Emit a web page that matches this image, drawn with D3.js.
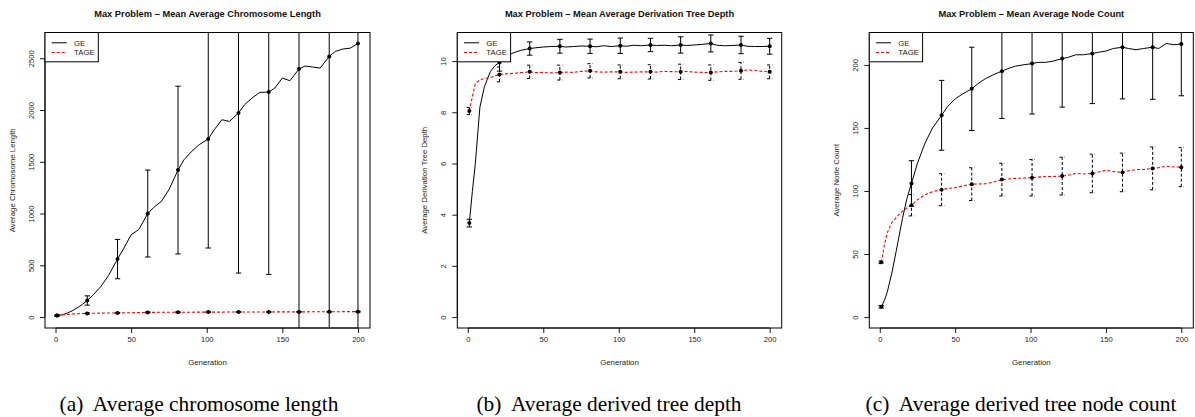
<!DOCTYPE html>
<html>
<head>
<meta charset="utf-8">
<script src="https://cdnjs.cloudflare.com/ajax/libs/d3/7.8.5/d3.min.js"></script>
<style>
  body { margin: 0; background: #fff; }
  svg { display: block; font-family: "Liberation Sans", Arial, sans-serif; }
</style>
</head>
<body>
<div id="chart"></div>
<script>
const WIDTH = 1195;
const HEIGHT = 417;

const lineGens = [1, 3, 5, 8, 11, 15, 18, 21, 25, 30, 35, 41, 45, 50, 55, 61, 65, 70, 75, 81, 85, 90, 95,
    101, 105, 110, 115, 121, 125, 130, 135, 141, 145, 150, 155, 161, 165, 170, 175, 181, 185, 190, 195, 200];
// generations with markers + error bars
const barGens = [1, 21, 41, 61, 81, 101, 121, 141, 161, 181, 200];

// (a) chromosome length
const geLength = [14, 18, 25, 40, 60, 95, 125, 160, 215, 296, 400, 560, 660, 795, 845, 1000, 1060, 1117, 1230, 1420, 1520, 1600, 1665,
    1720, 1810, 1906, 1890, 1971, 2051, 2116, 2170, 2174, 2212, 2309, 2283, 2396, 2425, 2415, 2405, 2518, 2566, 2589, 2598, 2643];
const tageLength = [14, 18, 22, 26, 29, 32, 34, 35, 37, 38, 39, 40, 41, 42, 43, 45, 45, 46, 46, 47, 47, 47, 48,
    48, 48, 48, 49, 49, 49, 49, 49, 49, 50, 50, 50, 50, 50, 51, 51, 51, 51, 52, 52, 52];
const geLengthErr = [5, 45, 190, 420, 810, 1053, 1546, 1762, 2700, 2800, 2900];
const tageLengthErr = [3, 4, 4, 4, 4, 4, 4, 4, 4, 4, 4];

// (b) derivation tree depth
const geDepth = [3.67, 4.9, 6.0, 8.2, 9.0, 9.6, 9.82, 9.95, 10.17, 10.32, 10.42, 10.49, 10.52, 10.55, 10.57, 10.58, 10.55, 10.57, 10.59, 10.58, 10.56, 10.6, 10.57,
    10.6, 10.58, 10.62, 10.6, 10.63, 10.61, 10.62, 10.6, 10.63, 10.61, 10.63, 10.65, 10.69, 10.62, 10.6, 10.61, 10.63, 10.58, 10.57, 10.57, 10.58];
const tageDepth = [8.05, 8.6, 9.13, 9.27, 9.32, 9.36, 9.42, 9.48, 9.5, 9.52, 9.55, 9.58, 9.55, 9.56, 9.54, 9.55, 9.57, 9.56, 9.6, 9.62, 9.58, 9.57, 9.58,
    9.58, 9.56, 9.57, 9.58, 9.58, 9.57, 9.6, 9.59, 9.58, 9.6, 9.57, 9.56, 9.55, 9.58, 9.6, 9.6, 9.62, 9.65, 9.64, 9.6, 9.58];
const geDepthErr = [0.15, 0.34, 0.26, 0.27, 0.28, 0.3, 0.26, 0.32, 0.33, 0.34, 0.31];
const tageDepthErr = [0.14, 0.29, 0.26, 0.29, 0.28, 0.27, 0.28, 0.3, 0.3, 0.33, 0.27];

// (c) node count
const geNodes = [8.2, 13, 20, 35, 53, 78, 94, 106, 122, 138, 150, 160, 167, 173, 177, 181, 185, 189, 192, 195, 197, 199, 200,
    201, 202, 202, 203, 205, 206, 208, 208, 209, 210, 211, 213, 214, 213, 212, 213, 214, 213, 217, 216, 216.5];
const tageNodes = [43.4, 57, 67, 75, 79, 84, 86.5, 88.7, 93, 97, 99.5, 101, 102, 102.5, 104, 105.4, 105.5, 105.7, 107, 109, 109.5, 110, 110.3,
    110.5, 111, 111.5, 111.5, 111.8, 112.5, 113.9, 113.5, 113.9, 115, 116.3, 115.5, 114.7, 116, 117, 117, 117.9, 118.5, 119.7, 119, 118.9];
const geNodesErr = [1, 18, 27.7, 33, 37.5, 40, 38.5, 39.7, 41, 41.3, 41];
const tageNodesErr = [1, 8.5, 12.7, 13, 13, 14.5, 15, 15.3, 15.3, 17, 15.5];

const xTicks = [0, 50, 100, 150, 200];
const seriesNames = ["GE", "TAGE"];

const panels = [
    { id: "a", title: "Max Problem \u2013 Mean Average Chromosome Length", ylab: "Average Chromosome Length",
      caption: "(a)\u00a0 Average chromosome length", ge: geLength, tage: tageLength, geErr: geLengthErr, tageErr: tageLengthErr,
      yTicks: [0, 500, 1000, 1500, 2000, 2500], left: 45, right: 370, capX: 199, tageBarDash: null },
    { id: "b", title: "Max Problem \u2013 Mean Average Derivation Tree Depth", ylab: "Average Derivation Tree Depth",
      caption: "(b)\u00a0 Average derived tree depth", ge: geDepth, tage: tageDepth, geErr: geDepthErr, tageErr: tageDepthErr,
      yTicks: [0, 2, 4, 6, 8, 10], left: 457.3, right: 781.7, capX: 609, tageBarDash: "3,2" },
    { id: "c", title: "Max Problem \u2013 Mean Average Node Count", ylab: "Average Node Count",
      caption: "(c)\u00a0 Average derived tree node count", ge: geNodes, tage: tageNodes, geErr: geNodesErr, tageErr: tageNodesErr,
      yTicks: [0, 50, 100, 150, 200], left: 869.3, right: 1193.3, capX: 1021, tageBarDash: "3,2" },
];

const TOP = 32.5;
const BOTTOM = 328;

const svg = d3.select("#chart").append("svg")
    .attr("width", WIDTH).attr("height", HEIGHT);

// R style 4% padding
let pad = (lo, hi) => {
    let r = hi - lo;
    return [lo - 0.04 * r, hi + 0.04 * r];
}

panels.forEach((p) => {
    const g = svg.append("g").attr("id", "panel-" + p.id);

    const xScale = d3.scaleLinear()
        .domain(pad(1, 200))
        .range([p.left, p.right]);
    const yScale = d3.scaleLinear()
        .domain(pad(0, d3.max(p.ge)))
        .range([BOTTOM, TOP]);

    g.append("clipPath").attr("id", "clip-" + p.id)
        .append("rect")
        .attr("x", p.left).attr("y", TOP)
        .attr("width", p.right - p.left).attr("height", BOTTOM - TOP);

    // axes
    const xAxis = d3.axisBottom(xScale).tickValues(xTicks).tickSize(5).tickPadding(4)
        .tickFormat(d3.format("d"));
    const xAxisCont = g.append("g")
        .attr("transform", `translate(0, ${BOTTOM})`)
        .call(xAxis);
    const yAxis = d3.axisLeft(yScale).tickValues(p.yTicks).tickSize(5).tickPadding(4)
        .tickFormat(d3.format("d"));
    const yAxisCont = g.append("g")
        .attr("transform", `translate(${p.left}, 0)`)
        .call(yAxis);
    [xAxisCont, yAxisCont].forEach((a) => {
        a.select(".domain").remove();
        a.selectAll("line").attr("stroke", "#000").attr("stroke-width", 0.9);
        a.selectAll("text").attr("font-size", 7.6).attr("fill", "#222")
            .attr("font-family", "Liberation Sans, Arial, sans-serif");
    });
    xAxisCont.append("line")
        .attr("x1", xScale(0)).attr("x2", xScale(200))
        .attr("stroke", "#000").attr("stroke-width", 0.9);
    yAxisCont.append("line")
        .attr("y1", yScale(p.yTicks[0])).attr("y2", yScale(p.yTicks.at(-1)))
        .attr("stroke", "#000").attr("stroke-width", 0.9);
    // rotated y tick labels (R las=0)
    yAxisCont.selectAll(".tick text")
        .attr("x", null).attr("dy", null)
        .attr("text-anchor", "middle")
        .attr("transform", "translate(-11.5, 0) rotate(-90)");

    // box
    g.append("rect")
        .attr("x", p.left).attr("y", TOP)
        .attr("width", p.right - p.left).attr("height", BOTTOM - TOP)
        .attr("fill", "none").attr("stroke", "#000").attr("stroke-width", 1);

    // titles
    g.append("text")
        .text(p.title)
        .attr("x", (p.left + p.right) / 2).attr("y", 17)
        .attr("text-anchor", "middle")
        .attr("font-weight", "bold")
        .attr("font-size", 9.3)
        .attr("fill", "#111");
    g.append("text")
        .text("Generation")
        .attr("x", (p.left + p.right) / 2).attr("y", 364.5)
        .attr("text-anchor", "middle")
        .attr("font-size", 7.8)
        .attr("fill", "#222");
    g.append("text")
        .text(p.ylab)
        .attr("transform", `translate(${p.left - 30.5}, ${(TOP + BOTTOM) / 2}) rotate(-90)`)
        .attr("text-anchor", "middle")
        .attr("font-size", 7.8)
        .attr("fill", "#222");

    const data = g.append("g").attr("clip-path", `url(#clip-${p.id})`);

    const line = d3.line()
        .x((d) => xScale(d[0]))
        .y((d) => yScale(d[1]));

    data.append("path")
        .datum(lineGens.map((gen, i) => [gen, p.ge[i]]))
        .attr("fill", "none")
        .attr("stroke", "#000")
        .attr("stroke-width", 1)
        .attr("d", line);

    data.append("path")
        .datum(lineGens.map((gen, i) => [gen, p.tage[i]]))
        .attr("fill", "none")
        .attr("stroke", "#ff0000")
        .attr("stroke-width", 1.1)
        .attr("stroke-dasharray", "3,2")
        .attr("d", line);

    // error bars + markers
    let bars = (vals, errs, dash) => {
        const pts = barGens.map((gen, i) => ({ gen: gen, mean: vals[lineGens.indexOf(gen)], err: errs[i] }));
        const bg = data.append("g")
            .attr("stroke", "#000")
            .attr("stroke-width", 1)
            .attr("stroke-dasharray", dash);
        bg.selectAll(".bar").data(pts).join("line")
            .attr("class", "bar")
            .attr("x1", (d) => xScale(d.gen)).attr("x2", (d) => xScale(d.gen))
            .attr("y1", (d) => yScale(d.mean - d.err)).attr("y2", (d) => yScale(d.mean + d.err));
        [-1, 1].forEach((s) => {
            bg.selectAll(".cap" + s).data(pts).join("line")
                .attr("class", "cap" + s)
                .attr("x1", (d) => xScale(d.gen) - 2.7).attr("x2", (d) => xScale(d.gen) + 2.7)
                .attr("y1", (d) => yScale(d.mean + s * d.err)).attr("y2", (d) => yScale(d.mean + s * d.err));
        });
        data.append("g").selectAll("circle").data(pts).join("circle")
            .attr("cx", (d) => xScale(d.gen))
            .attr("cy", (d) => yScale(d.mean))
            .attr("r", 2)
            .attr("fill", "#000");
    }
    bars(p.ge, p.geErr, null);
    bars(p.tage, p.tageErr, p.tageBarDash);

    // legend
    const lg = g.append("g").attr("transform", `translate(${p.left}, ${TOP})`);
    lg.append("rect")
        .attr("width", 53.3).attr("height", 29.3)
        .attr("fill", "#fff").attr("stroke", "#000").attr("stroke-width", 1);
    seriesNames.forEach((name, i) => {
        lg.append("line")
            .attr("x1", 6.7).attr("x2", 21.7)
            .attr("y1", 10.3 + i * 9.7).attr("y2", 10.3 + i * 9.7)
            .attr("stroke", i == 0 ? "#000" : "#ff0000")
            .attr("stroke-width", i == 0 ? 1 : 1.1)
            .attr("stroke-dasharray", i == 0 ? null : "3,2");
        lg.append("text")
            .text(name)
            .attr("x", 29).attr("y", 13 + i * 9.7)
            .attr("font-size", 7.8)
            .attr("fill", "#222");
    });

    // sub-figure caption
    svg.append("text")
        .text(p.caption)
        .attr("x", p.capX).attr("y", 411)
        .attr("text-anchor", "middle")
        .attr("font-family", "Liberation Serif, Times New Roman, serif")
        .attr("font-size", 21.4)
        .attr("fill", "#000");
});
</script>
</body>
</html>
